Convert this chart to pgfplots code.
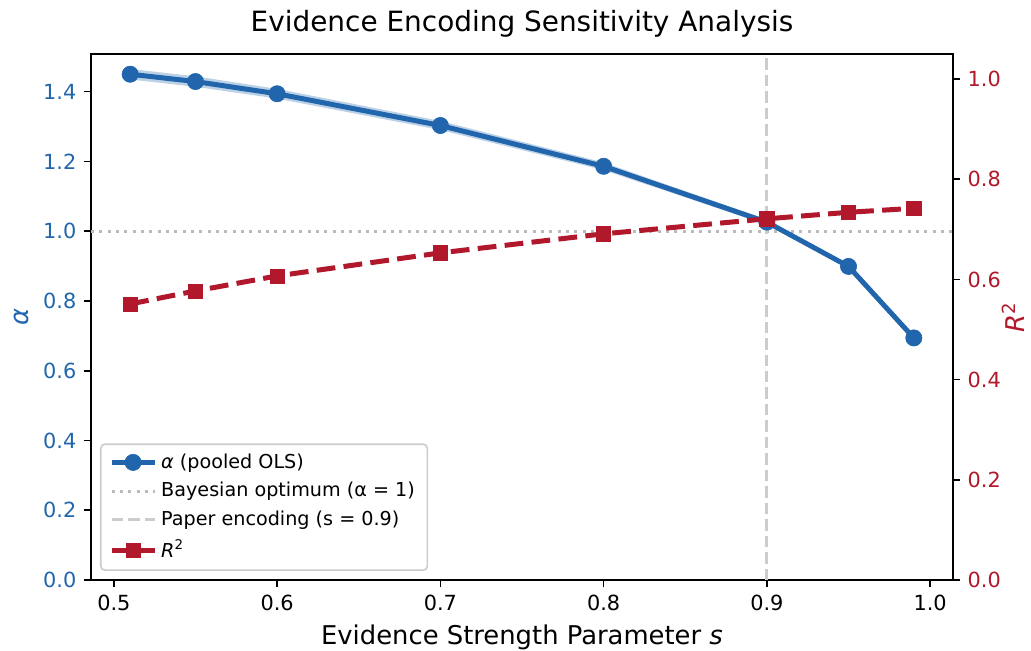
\documentclass[border=0pt]{standalone}
\usepackage{fontspec}
\setmainfont{DejaVu Sans}
\usepackage{pgfplots}
\pgfplotsset{compat=1.18}
\usepgfplotslibrary{fillbetween}
\definecolor{cblue}{HTML}{2166AC}
\definecolor{cred}{HTML}{B2182B}
\definecolor{lgray}{HTML}{BBBBBB}
\definecolor{vgray}{HTML}{CCCCCC}
\begin{document}
\begin{tikzpicture}
\pgfplotsset{
  common/.style={
    scale only axis, width=413.76pt, height=252.48pt,
    xmin=0.486, xmax=1.014,
    tick align=outside, major tick length=3.5pt,
    every tick/.style={black, line width=0.8pt},
    axis line style={line width=0.8pt},
    ticklabel style={font=\fontsize{10}{12}\selectfont},
    label style={font=\fontsize{12.4}{14}\selectfont},
    /pgf/number format/fixed, /pgf/number format/fixed zerofill,
    /pgf/number format/precision=1, /pgf/number format/assume math mode=true,
    scaled ticks=false,
  }
}
\begin{axis}[
  common, name=main,
  ymin=0, ymax=1.508,
  xtick={0.5,0.6,0.7,0.8,0.9,1.0},
  ytick={0,0.2,0.4,0.6,0.8,1.0,1.2,1.4},
  xtick pos=bottom, ytick pos=left,
  yticklabel style={text=cblue},
  xlabel={Evidence Strength Parameter \textit{s}},
  ylabel={\textit{α}}, ylabel style={text=cblue},
  title={Evidence Encoding Sensitivity Analysis},
  title style={font=\fontsize{13.4}{16}\selectfont, yshift=-1.5pt},
]
\addplot[name path=up, draw=none, forget plot] coordinates {
(0.51,1.465) (0.55,1.444) (0.60,1.408) (0.70,1.316) (0.80,1.197) (0.90,1.033) (0.95,0.904) (0.99,0.699)};
\addplot[name path=lo, draw=none, forget plot] coordinates {
(0.51,1.435) (0.55,1.414) (0.60,1.380) (0.70,1.290) (0.80,1.175) (0.90,1.019) (0.95,0.894) (0.99,0.689)};
\addplot[fill=cblue, fill opacity=0.3, draw=none, forget plot] fill between[of=up and lo];
\addplot[lgray, line width=1.5pt, dash pattern=on 1.5pt off 2.5pt, forget plot] coordinates {(0.486,1) (1.014,1)};
\addplot[vgray, line width=1.5pt, dash pattern=on 5.5pt off 2.4pt, forget plot] coordinates {(0.9,0) (0.9,1.508)};
\addplot[cblue, line width=2.4pt, mark=*, mark size=3.9pt, mark options={solid, line width=0.3pt}] coordinates {
(0.51,1.450) (0.55,1.429) (0.60,1.394) (0.70,1.303) (0.80,1.186) (0.90,1.026) (0.95,0.899) (0.99,0.694)};
\end{axis}
\begin{axis}[
  common,
  ymin=0, ymax=1.05,
  axis x line=none, axis y line*=right,
  ytick={0,0.2,0.4,0.6,0.8,1.0},
  yticklabel style={text=cred},
  ylabel={\textit{R}\textsuperscript{2}}, ylabel style={text=cred, inner sep=0pt},
  ylabel shift=-3pt,
  legend cell align=left,
  legend image code/.code={\draw[mark repeat=2,mark phase=2] plot coordinates {(0pt,0pt) (10.3pt,0pt) (20.6pt,0pt)};},
  legend style={at={(0.0104,0.0171)}, anchor=south west,
    font=\fontsize{9.2}{11}\selectfont, draw=black!20, line width=0.8pt,
    fill=white, rounded corners=2pt,
    row sep=1.3pt, inner xsep=4pt, inner ysep=2.5pt},
]
\addlegendimage{cblue, line width=2.4pt, mark=*, mark size=3.9pt, mark options={solid, line width=0.3pt}}
\addlegendentry{\textit{α} (pooled OLS)}
\addlegendimage{lgray, line width=1.5pt, dash pattern=on 1.5pt off 2.5pt}
\addlegendentry{Bayesian optimum (α = 1)}
\addlegendimage{vgray, line width=1.5pt, dash pattern=on 5.5pt off 2.4pt}
\addlegendentry{Paper encoding (s = 0.9)}
\addplot[cred, line width=2.4pt, dash pattern=on 9pt off 4pt, mark=square*, mark size=3.4pt, mark options={solid, line width=0.3pt}] coordinates {
(0.51,0.551) (0.55,0.577) (0.60,0.607) (0.70,0.653) (0.80,0.691) (0.90,0.721) (0.95,0.734) (0.99,0.742)};
\addlegendentry{\textit{R}\textsuperscript{2}}
\end{axis}
\pgfresetboundingbox
\path[use as bounding box] ([xshift=-43.68pt,yshift=-34.08pt]main.south west) rectangle ([xshift=451.2pt,yshift=278.4pt]main.south west);
\end{tikzpicture}
\end{document}
